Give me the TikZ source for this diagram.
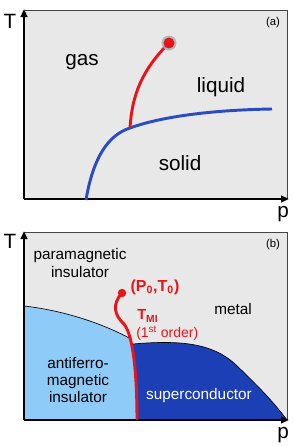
\documentclass[tikz,border=0pt]{standalone}
\usepackage{fontspec}
\setmainfont{Liberation Sans}
\usepackage{xcolor}
\usetikzlibrary{arrows.meta}

\definecolor{panelgray}{HTML}{E8E8E8}
\definecolor{framegray}{HTML}{444444}
\definecolor{linered}{HTML}{E8141A}
\definecolor{lineblue}{HTML}{2A4CC2}
\definecolor{afmblue}{HTML}{8FCBF8}
\definecolor{scblue}{HTML}{1C3FB6}

\begin{document}
\begin{tikzpicture}[
    x=0.75pt, y=-0.75pt,
    panel/.style={fill=panelgray},
    frameline/.style={draw=framegray, line width=0.6pt},
    axis/.style={-{Triangle[length=6pt, width=5pt]}, line width=1.5pt},
    axlabel/.style={font=\fontsize{15.5}{18}\selectfont, inner sep=0pt},
    biglabel/.style={font=\fontsize{15.5}{18}\selectfont, inner sep=0pt},
    midlabel/.style={font=\fontsize{11.5}{13}\selectfont, align=center, inner sep=0pt},
    tag/.style={font=\fontsize{8.5}{10}\selectfont, inner sep=0pt},
    redline/.style={draw=linered, line width=2.2pt},
    border/.style={draw=black, line width=0.5pt}
]
    \useasboundingbox (0,0) rectangle (295,446);

    % panel (a)
    \fill[panel] (24,10) rectangle (287,199);
    \draw[frameline] (24,10) -- (287,10) -- (287,199);
    \coordinate (a0) at (24,199);
    \coordinate (aT) at (24,9);
    \coordinate (ap) at (289,199);
    \draw[axis] (a0) -- (aT);
    \draw[axis] (a0) -- (ap);
    \node[axlabel] (Ta) at (10,21) {T};
    \node[axlabel] (pa) at (283,214) {p};
    \node[tag] (taga) at (273,23) {(a)};

    \coordinate (triple) at (130,128);
    \coordinate (crit) at (169,43);
    \draw[draw=lineblue, line width=2.2pt] (86,200) .. controls (93,158) and (108,135) .. (triple)
        .. controls (160,117) and (210,110) .. (272,109);
    \draw[redline] (triple) .. controls (132,95) and (142,70) .. (crit);
    \fill[gray!70!teal!60, opacity=0.8] (crit) circle (7.5);
    \fill[linered] (crit) circle (5.5);

    \node[biglabel] (gas) at (82,62) {gas};
    \node[biglabel] (liquid) at (221,87) {liquid};
    \node[biglabel] (solid) at (180,163) {solid};

    % panel (b)
    \fill[panel] (24,232) rectangle (287,420);
    \draw[frameline] (24,232) -- (287,232) -- (287,420);
    \coordinate (mi) at (131,339);
    \coordinate (mitop) at (133,344);
    \coordinate (mibot) at (137,420);
    \fill[afmblue] (24,306) .. controls (60,310) and (100,322) .. (mi)
        .. controls (134,360) and (137,390) .. (mibot) -- (24,420) -- cycle;
    \fill[scblue] (mitop) .. controls (180,340) and (212,343) .. (235,364)
        .. controls (255,383) and (272,400) .. (287,420) -- (mibot)
        .. controls (137,390) and (135,365) .. cycle;
    \draw[border] (24,306) .. controls (60,310) and (100,322) .. (mi);
    \draw[border] (mitop) .. controls (180,340) and (212,343) .. (235,364)
        .. controls (255,383) and (272,400) .. (287,420);
    \coordinate (b0) at (24,420);
    \coordinate (bT) at (24,231);
    \coordinate (bp) at (289,420);
    \draw[axis] (b0) -- (bT);
    \draw[axis] (b0) -- (bp);
    \node[axlabel] (Tb) at (10,241) {T};
    \node[axlabel] (pb) at (283,435) {p};
    \node[tag] (tagb) at (273,245) {(b)};

    \coordinate (P0) at (122,293);
    \draw[redline] (P0) .. controls (112,304) and (114,315) .. (124,324)
        .. controls (134,336) and (137,380) .. (mibot);
    \fill[linered] (P0) circle (4.2);

    \node[midlabel] (para) at (80,263) {paramagnetic\\insulator};
    \node[midlabel] (metal) at (233,309) {metal};
    \node[midlabel] (afm) at (78,380) {antiferro-\\magnetic\\insulator};
    \node[midlabel, text=white] (sc) at (199,396) {superconductor};
    \node[midlabel, text=linered, font=\fontsize{12}{14}\selectfont\bfseries] (crit b) at (155,287) {(P\textsubscript{0},T\textsubscript{0})};
    \node[midlabel, text=linered, font=\fontsize{11}{13}\selectfont\bfseries, anchor=west] (tmi) at (137,316) {T\textsubscript{MI}};
    \node[midlabel, text=linered, font=\fontsize{10.5}{12}\selectfont, anchor=west] (order) at (136,333) {(1\textsuperscript{st} order)};
\end{tikzpicture}
\end{document}
